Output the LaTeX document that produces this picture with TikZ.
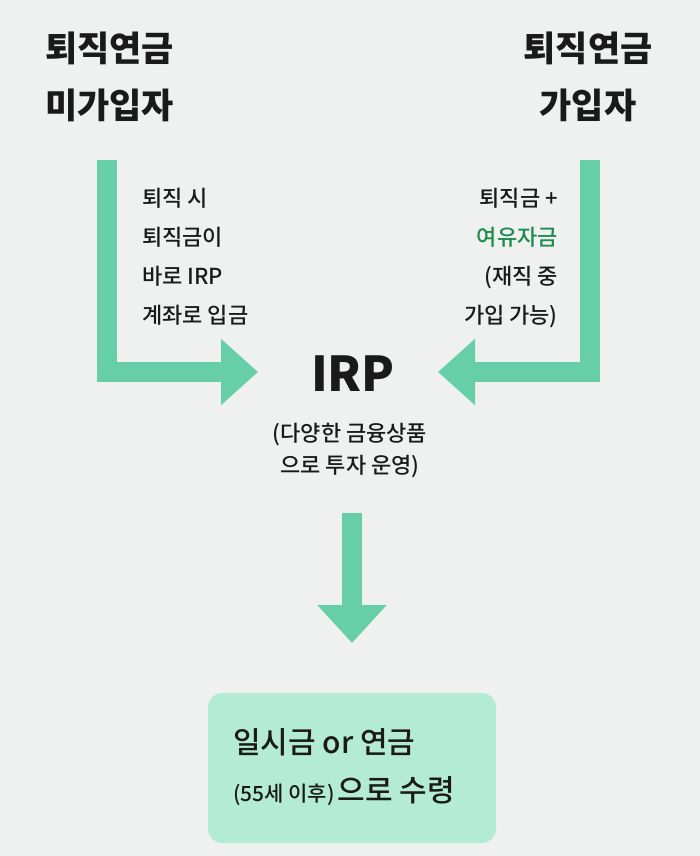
\documentclass[tikz,border=0pt]{standalone}
\usepackage{fontspec}
\setmainfont{Noto Sans CJK KR}
\newfontfamily\medfont{Noto Sans CJK KR Medium}
\usetikzlibrary{arrows.meta}
\definecolor{bgc}{HTML}{EEF1F0}
\definecolor{arr}{HTML}{66CFA9}
\definecolor{boxc}{HTML}{B3EBD4}
\definecolor{grn}{HTML}{1E8A4C}
\definecolor{txt}{HTML}{1A1A1A}
\begin{document}
\begin{tikzpicture}[x=1pt,y=-1pt,
  head/.style={font=\fontsize{35}{35}\selectfont\bfseries, inner sep=0pt, text=txt},
  small/.style={font=\fontsize{22}{22}\selectfont\medfont, inner sep=0pt, text=txt},
  flow/.style={draw=arr, line width=20pt, line join=miter, line cap=butt, -{Triangle[width=64pt,length=37pt]}},
  resbox/.style={fill=boxc, rounded corners=14pt, draw=none, minimum width=288pt, minimum height=150pt, inner sep=0pt}]
\fill[bgc] (0,0) rectangle (700,856);
\useasboundingbox (0,0) rectangle (700,856);
% headings
\node[head, anchor=base west] (hl1) at (45,62) {퇴직연금};
\node[head, anchor=base west] (hl2) at (45,118) {미가입자};
\node[head, anchor=base] (hr1) at (588,62) {퇴직연금};
\node[head, anchor=base] (hr2) at (588,118) {가입자};
% left notes
\node[small, anchor=base west] (l1) at (142,206) {퇴직 시};
\node[small, anchor=base west] (l2) at (142,245) {퇴직금이};
\node[small, anchor=base west] (l3) at (142,284) {바로 IRP};
\node[small, anchor=base west] (l4) at (142,323) {계좌로 입금};
% right notes
\node[small, anchor=base east] (r1) at (558,206) {퇴직금 +};
\node[small, anchor=base east, text=grn] (r2) at (558,245) {여유자금};
\node[small, anchor=base east] (r3) at (558,284) {(재직 중};
\node[small, anchor=base east] (r4) at (558,323) {가입 가능)};
% IRP
\node[inner sep=0pt, anchor=base, font=\fontsize{48}{48}\selectfont\bfseries, text=txt] (irp) at (353,391) {IRP};
\node[small, anchor=base] (irp1) at (350,441) {(다양한 금융상품};
\node[small, anchor=base] (irp2) at (350,473) {으로 투자 운영)};
% arrows
\coordinate (ls) at (107,160);
\coordinate (lt) at (258,372);
\coordinate (rs) at (590,160);
\coordinate (rt) at (438,372);
\coordinate (ds) at (352,513);
\coordinate (dt) at (352,643);
\draw[flow] (ls) |- (lt);
\draw[flow] (rs) |- (rt);
\draw[flow, -{Triangle[width=67pt,length=38pt]}] (ds) -- (dt);
% result box
\node[resbox] (res) at (352,768) {};
\node[inner sep=0pt, anchor=base west, font=\fontsize{30}{30}\selectfont\medfont, text=txt] (b1) at (233,753) {일시금 or 연금};
\node[inner sep=0pt, anchor=base west, text=txt, font=\medfont] (b2) at (233,801) {{\fontsize{21}{21}\selectfont(55세 이후)}\hspace{3pt}{\fontsize{30}{30}\selectfont 으로 수령}};
\end{tikzpicture}
\end{document}
